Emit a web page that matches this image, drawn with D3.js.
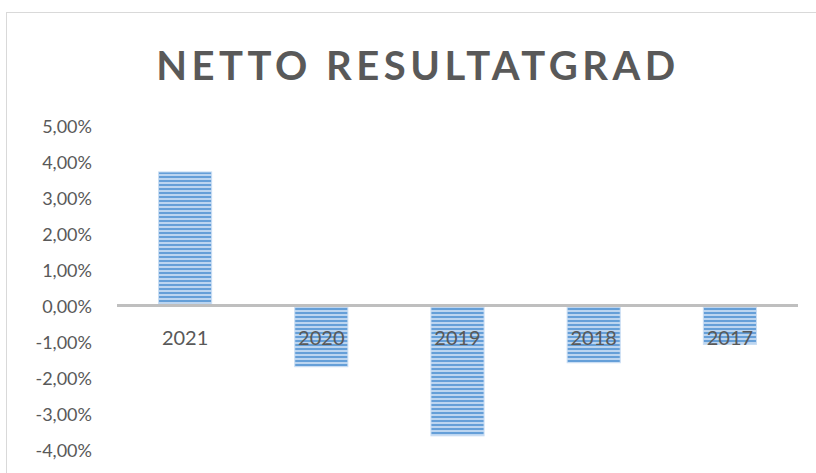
<!DOCTYPE html>
<html>
<meta charset="utf-8">
<style>
body { margin: 0; background: #fff; }
text { font-family: Lato, "Open Sans", sans-serif; }
</style>
<body>
<script src="https://cdn.jsdelivr.net/npm/d3@7"></script>
<script>

// data
var years = ["2021", "2020", "2019", "2018", "2017"];
var values = [0.0371, -0.0170, -0.0362, -0.0159, -0.0108];
var yTicks = [0.05, 0.04, 0.03, 0.02, 0.01, 0, -0.01, -0.02, -0.03, -0.04];
var title = "NETTO RESULTATGRAD";

var W = 816, H = 473;
var margin = {top: 125.5, left: 117, right: 18},
    plotW = W - margin.left - margin.right;

var svg = d3.select("body").append("svg")
    .attr("width", W)
    .attr("height", H);

// stripe pattern for the bars
var defs = svg.append("defs");
var pat = defs.append("pattern")
    .attr("id", "stripes")
    .attr("patternUnits", "userSpaceOnUse")
    .attr("width", 8)
    .attr("height", 4);
pat.append("rect").attr("width", 8).attr("height", 4).attr("fill", "#bcd5f0");
pat.append("rect").attr("width", 8).attr("height", 2).attr("fill", "#659fd8");

// chart frame
svg.append("rect")
    .attr("x", 6.5).attr("y", 12.5)
    .attr("width", W).attr("height", H)
    .attr("fill", "#fff")
    .attr("stroke", "#d9d9d9")
    .attr("stroke-width", 1);

// title
svg.append("text")
    .attr("x", 418)
    .attr("y", 80)
    .attr("text-anchor", "middle")
    .style("font-size", "40px")
    .style("font-weight", "bold")
    .style("letter-spacing", "4.5px")
    .style("fill", "#595959")
    .text(title);

// scales
var x = d3.scaleBand()
    .domain(years)
    .range([margin.left, margin.left + plotW])
    .paddingInner(0.61)
    .paddingOuter(0.305);

var y = d3.scaleLinear()
    .domain([0.05, -0.04])
    .range([margin.top, margin.top + 9 * 36]);

// y axis labels
var fmt = function(v) { return d3.format(".2f")(v * 100).replace(".", ",").replace("−", "-") + "%"; };
var yAxis = svg.append("g")
    .attr("transform", "translate(" + (margin.left - 25) + ",1)")
    .call(d3.axisLeft(y).tickValues(yTicks).tickFormat(fmt).tickSize(0).tickPadding(0));
yAxis.select(".domain").remove();
yAxis.selectAll("text")
    .style("font-family", "Lato, sans-serif")
    .style("font-size", "18px")
    .style("fill", "#595959");

// bars
svg.selectAll(".bar")
    .data(values)
  .enter().append("rect")
    .attr("class", "bar")
    .attr("x", function(d, i) { return x(years[i]); })
    .attr("width", x.bandwidth())
    .attr("y", function(d) { return y(Math.max(0, d)); })
    .attr("height", function(d) { return Math.abs(y(d) - y(0)); })
    .attr("fill", "url(#stripes)")
    .attr("stroke", "#c9ddf3")
    .attr("stroke-width", 1);

// zero line
svg.append("line")
    .attr("x1", margin.left).attr("x2", margin.left + plotW)
    .attr("y1", y(0)).attr("y2", y(0))
    .attr("stroke", "#bfbfbf")
    .attr("stroke-width", 3);

// category labels under the zero line
svg.selectAll(".cat")
    .data(years)
  .enter().append("text")
    .attr("class", "cat")
    .attr("x", function(d) { return x(d) + x.bandwidth() / 2; })
    .attr("y", y(0) + 39)
    .attr("text-anchor", "middle")
    .style("font-size", "20px")
    .style("fill", "#595959")
    .text(function(d) { return d; });

</script>
</body>
</html>
